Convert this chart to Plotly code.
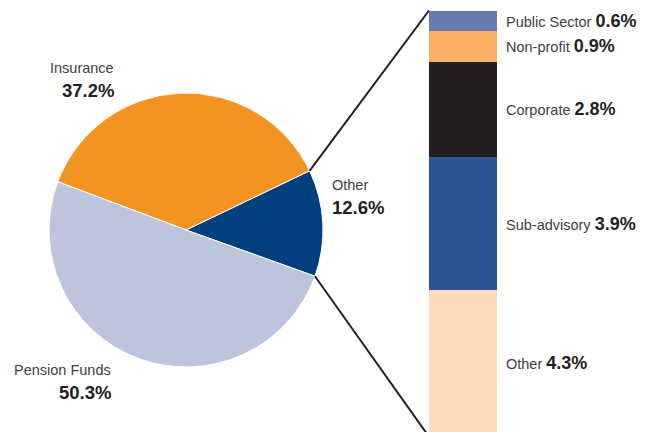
import math
import plotly.graph_objects as go

# ---- data ----
pie_labels = ["Other", "Insurance", "Pension Funds"]
pie_values = [12.6, 37.2, 50.3]
pie_colors = ["#023F7F", "#F39322", "#BFC4DD"]

bar_labels = ["Other", "Sub-advisory", "Corporate", "Non-profit", "Public Sector"]
bar_values = [4.3, 3.9, 2.8, 0.9, 0.6]
bar_colors = ["#FDDBBC", "#2E5591", "#231F20", "#F9B064", "#6A7DB1"]

# page is 648x432, the figure div sits at an 8px body margin
OFF = 8
W, H = 648 - OFF, 432 - OFF
FONT = "Liberation Sans, Arial, sans-serif"
GREY = "#404040"
DARK = "#231F20"

def px(xp):  # page x pixel -> paper
    return (xp - OFF) / W
def py(yp):  # page y pixel -> paper
    return (H - (yp - OFF)) / H

# ---- geometry (page pixels) ----
pie_cx, pie_cy, pie_r = 186, 230, 137
rotation = 64.4
bar_x0, bar_x1 = 429, 497
bar_top_px, px_per_unit = 10.5, 34.1

total_bar = sum(bar_values)
y_top = total_bar + (bar_top_px - OFF) / px_per_unit
y_bot = y_top - H / px_per_unit

fig = go.Figure()

fig.add_trace(go.Pie(
    labels=pie_labels, values=pie_values, sort=False,
    direction="counterclockwise", rotation=rotation,
    marker=dict(colors=pie_colors, line=dict(color="white", width=1)),
    textinfo="none", hoverinfo="skip", showlegend=False,
    domain=dict(x=[px(pie_cx - pie_r), px(pie_cx + pie_r)],
                y=[py(pie_cy + pie_r), py(pie_cy - pie_r)]),
))

for lab, val, col in zip(bar_labels, bar_values, bar_colors):
    fig.add_trace(go.Bar(
        x=[0], y=[val], name=lab, marker=dict(color=col, line=dict(width=0)),
        width=1, hoverinfo="skip", showlegend=False,
    ))

# connector lines from pie slice edges to bar corners
pie_total = sum(pie_values)
a1 = math.radians(90 - rotation)
a2 = math.radians(90 - rotation - 360 * pie_values[0] / pie_total)
def pie_pt(a):
    return (px(pie_cx + pie_r * math.cos(a)), py(pie_cy - pie_r * math.sin(a)))
p1 = pie_pt(a1)
p2 = pie_pt(a2)
bx = px(bar_x0)
top_paper = (total_bar - y_bot) / (y_top - y_bot)
bot_paper = (0 - y_bot) / (y_top - y_bot)
fig.add_shape(type="line", xref="paper", yref="paper", x0=p1[0], y0=p1[1], x1=bx, y1=top_paper,
              line=dict(color="#231F20", width=2))
fig.add_shape(type="line", xref="paper", yref="paper", x0=p2[0], y0=p2[1], x1=bx, y1=bot_paper,
              line=dict(color="#231F20", width=2))

annotations = []
# right bar labels
cum = 0
for lab, val in zip(bar_labels, bar_values):
    mid = cum + val / 2
    cum += val
    annotations.append(dict(
        xref="paper", yref="y", x=px(bar_x1 + 7), y=mid, xanchor="left", yanchor="middle",
        text=f"<span style='color:{GREY}'>{lab}</span> <b><span style='font-size:18px;color:{DARK}'>{val}%</span></b>",
        showarrow=False, font=dict(family=FONT, size=14.5, color=GREY),
    ))

# pie labels
pie_label_pos = {
    "Insurance": (116, 68, 90, "right"),
    "Other": (330, 185, 207, "left"),
    "Pension Funds": (113, 370, 392, "right"),
}
for lab, val in zip(pie_labels, pie_values):
    x, yn, yv, anc = pie_label_pos[lab]
    annotations.append(dict(xref="paper", yref="paper", x=px(x), y=py(yn),
                            xanchor=anc, yanchor="middle", text=lab, showarrow=False,
                            font=dict(family=FONT, size=14.5, color=GREY)))
    annotations.append(dict(xref="paper", yref="paper", x=px(x), y=py(yv),
                            xanchor=anc, yanchor="middle", text=f"<b>{val}%</b>", showarrow=False,
                            font=dict(family=FONT, size=18.5, color=DARK)))

fig.update_layout(
    width=W, height=H, margin=dict(l=0, r=0, t=0, b=0),
    paper_bgcolor="white", plot_bgcolor="white",
    barmode="stack", bargap=0,
    xaxis=dict(domain=[px(bar_x0), px(bar_x1)], range=[-0.5, 0.5], visible=False, fixedrange=True),
    yaxis=dict(domain=[0, 1], range=[y_bot, y_top], visible=False, fixedrange=True),
    annotations=annotations,
    font=dict(family=FONT),
)

fig.write_html("out.html")
